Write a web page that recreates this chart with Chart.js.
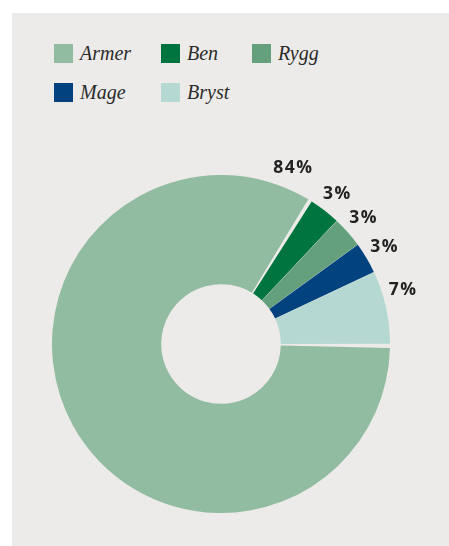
<!DOCTYPE html>
<html>
<head>
<meta charset="utf-8">
<script src="https://cdn.jsdelivr.net/npm/chart.js@4"></script>
<style>
    html, body { margin:0; padding:0; background:#fff; }
    body { width:449px; height:546px; position:relative; overflow:hidden; }
    .panel { position:absolute; left:12px; top:13px; width:437px; height:533px; background:#EDEBE9; }
    .legend { position:absolute; left:54px; top:44px; display:grid; grid-template-columns:107px 91px auto; grid-auto-rows:39px; }
    .legend-item { display:flex; align-items:flex-start; }
    .legend-box { width:19px; height:19px; margin-right:7px; flex:none; }
    .legend-text { font-family:"Liberation Serif", serif; font-style:italic; font-size:20px; line-height:20px; color:#2b2b2b; margin-top:-1px; }
    canvas { position:absolute; left:0; top:0; }
</style>
</head>
<body>
<div class="panel"></div>
<div class="legend" id="legend"></div>
<div style="position:absolute;left:0;top:0;width:449px;height:546px;">
    <canvas id="chart-andel"></canvas>
</div>
<script>
/* Andel per kroppsdel */
const labels = ['Armer', 'Ben', 'Rygg', 'Mage', 'Bryst'];
const values = [84, 3, 3, 3, 7];
const colors = ['#91BCA1', '#00743F', '#63A07B', '#01427F', '#B5D8D2'];

// html legend, laid out in columns like the original
document.getElementById('legend').innerHTML = labels.map((l, i) =>
    `<div class="legend-item"><span class="legend-box" style="background:${colors[i]}"></span><span class="legend-text">${l}</span></div>`
).join('');

// percentage labels outside the ring
const outsideLabels = {
    id: 'outsideLabels',
    afterDatasetsDraw(chart, args, opts) {
        const ctx = chart.ctx;
        const meta = chart.getDatasetMeta(0);
        const data = chart.data.datasets[0].data;
        ctx.save();
        ctx.font = 'bold 17.5px "Open Sans", sans-serif';
        ctx.letterSpacing = '1.5px';
        ctx.fillStyle = '#222';
        ctx.textAlign = 'center';
        ctx.textBaseline = 'middle';
        meta.data.forEach((arc, i) => {
            const p = arc.getProps(['x', 'y', 'startAngle', 'endAngle', 'outerRadius'], true);
            const f = opts.anchor[i] ?? 0.5;
            const a = p.startAngle + (p.endAngle - p.startAngle) * f;
            const r = p.outerRadius + opts.gap;
            ctx.fillText(data[i] + '%', p.x + Math.cos(a) * r, p.y + Math.sin(a) * r);
        });
        ctx.restore();
    }
};

const chart = new Chart(document.getElementById('chart-andel'), {
    type: 'doughnut',
    data: {
        labels: labels,
        datasets: [{ data: values, backgroundColor: colors, borderWidth: 0, spacing: 2 }]
    },
    options: {
        responsive: true,
        maintainAspectRatio: false,
        animation: false,
        rotation: 90,
        radius: 168,
        cutout: '35%',
        layout: { padding: { left: 0, right: 7, top: 142, bottom: 0 } },
        plugins: {
            legend: { display: false },
            tooltip: { enabled: false },
            outsideLabels: { gap: 22, anchor: [0.967, 0.5, 0.5, 0.5, 0.34] }
        }
    },
    plugins: [outsideLabels]
});
</script>
</body>
</html>
